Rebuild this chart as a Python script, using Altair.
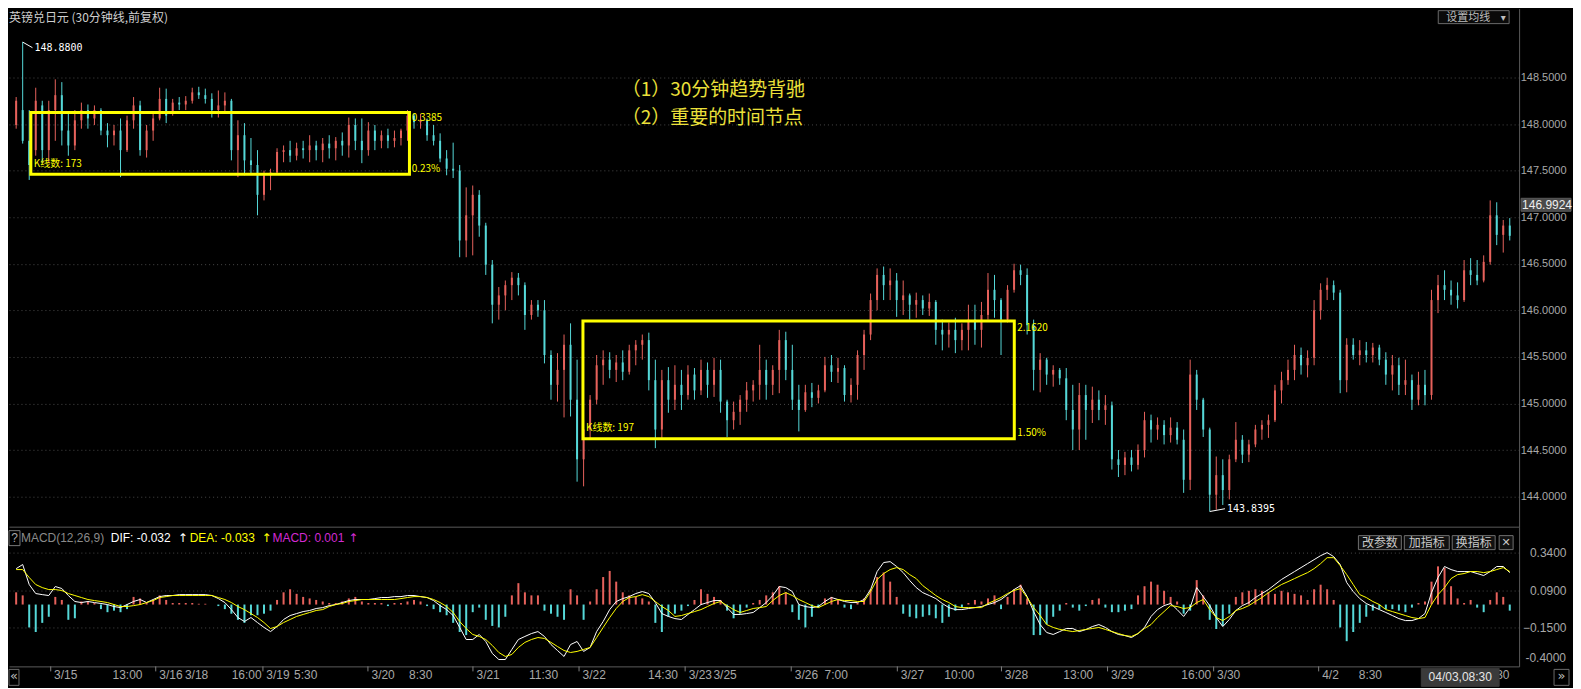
import altair as alt
import pandas as pd

# ---------------- data (GBP/JPY 30-min, each entry = 3 half-hour candles) ----------------
opens = [
147.99,148.15,147.82,147.72,148.20,147.72,148.15,148.31,147.93,147.77,
148.04,148.15,148.06,148.15,147.93,147.88,147.93,147.72,148.04,148.20,
147.72,147.93,148.06,148.27,148.12,148.23,148.21,148.25,148.34,148.31,
148.27,148.15,148.20,148.25,147.72,147.88,147.61,147.56,147.24,147.45,
147.48,147.70,147.72,147.66,147.74,147.72,147.77,147.72,147.79,147.74,
147.82,147.77,147.99,147.82,147.72,147.93,147.82,147.88,147.82,147.85,
147.93,148.09,148.02,148.04,147.88,147.82,147.63,147.52,147.50,146.75,
147.02,147.24,146.91,146.49,146.06,146.16,146.27,146.35,146.27,145.95,
146.06,146.00,145.52,145.20,145.36,145.63,145.04,144.40,144.72,145.04,
145.41,145.47,145.36,145.44,145.34,145.57,145.63,145.68,145.25,144.72,
145.25,145.04,145.20,145.09,145.31,145.14,145.36,145.20,145.36,145.02,
144.82,144.91,145.04,145.14,145.20,145.36,145.20,145.36,145.68,145.36,
145.04,144.93,145.12,145.06,145.14,145.41,145.34,145.38,145.09,145.20,
145.52,145.74,146.11,146.38,146.27,146.32,146.11,146.16,146.06,146.11,
146.02,146.09,145.79,145.74,145.79,145.68,145.79,145.90,145.79,145.95,
146.22,146.11,145.90,146.22,146.43,146.38,145.84,145.36,145.47,145.31,
145.36,145.27,144.93,144.72,145.09,144.93,145.04,144.93,144.98,144.40,
144.34,144.42,144.34,144.50,144.82,144.72,144.77,144.66,144.74,144.61,
144.18,145.31,145.04,144.72,144.02,144.23,144.07,144.40,144.61,144.45,
144.56,144.72,144.77,144.82,145.14,145.25,145.36,145.52,145.41,145.49,
146.00,146.22,146.27,146.19,145.25,145.63,145.52,145.57,145.52,145.60,
145.47,145.31,145.41,145.20,145.25,145.04,145.20,145.09,146.11,146.27,
146.22,146.16,146.11,146.43,146.38,146.32,146.52,147.02,146.81,146.91,
]
highs = [
148.29,148.88,148.15,148.39,148.25,148.25,148.48,148.45,148.11,148.15,
148.23,148.21,148.20,148.17,148.01,147.99,148.06,148.09,148.29,148.25,
147.99,148.11,148.39,148.38,148.27,148.29,148.30,148.39,148.40,148.38,
148.33,148.36,148.34,148.27,148.04,148.01,147.85,147.72,147.50,147.52,
147.74,147.77,147.82,147.80,147.82,147.88,147.82,147.85,147.88,147.86,
147.91,148.07,148.06,148.06,148.02,147.99,147.93,147.95,147.93,147.95,
148.15,148.11,148.11,148.06,147.99,147.90,147.72,147.80,147.56,147.32,
147.34,147.29,146.94,146.54,146.25,146.32,146.41,146.40,146.30,146.11,
146.11,146.11,145.57,145.54,145.74,145.86,145.47,144.82,145.09,145.52,
145.57,145.55,145.52,145.57,145.63,145.68,145.74,145.76,145.47,145.36,
145.39,145.41,145.36,145.41,145.38,145.47,145.44,145.49,145.47,145.04,
145.02,145.09,145.23,145.25,145.63,145.47,145.41,145.79,145.77,145.63,
145.20,145.20,145.22,145.20,145.50,145.52,145.49,145.41,145.27,145.57,
145.79,146.18,146.45,146.47,146.45,146.40,146.32,146.18,146.19,146.16,
146.18,146.11,145.90,145.87,145.92,145.86,146.06,146.06,146.09,146.40,
146.38,146.13,146.27,146.50,146.49,146.45,145.90,145.54,145.49,145.41,
145.38,145.38,145.20,145.22,145.20,145.18,145.14,145.09,145.02,144.50,
144.48,144.50,144.56,144.91,144.88,144.85,144.82,144.85,144.80,144.72,
145.47,145.36,145.06,144.74,144.43,144.40,144.45,144.80,144.66,144.61,
144.77,144.82,144.88,145.20,145.34,145.47,145.63,145.60,145.57,146.11,
146.29,146.35,146.32,146.22,145.70,145.70,145.68,145.66,145.65,145.63,
145.55,145.52,145.49,145.47,145.31,145.34,145.36,146.22,146.38,146.43,
146.32,146.30,146.54,146.56,146.54,146.59,147.18,147.16,146.97,146.99,
]
lows = [
147.95,147.79,147.40,147.66,147.58,147.58,147.82,147.77,147.66,147.72,
147.95,147.95,147.99,147.88,147.75,147.77,147.43,147.70,147.95,147.66,
147.64,147.82,148.04,148.01,148.09,148.15,148.15,148.22,148.27,148.22,
148.07,148.07,148.11,147.61,147.43,147.45,147.47,147.02,147.18,147.29,
147.46,147.59,147.59,147.61,147.63,147.59,147.61,147.59,147.63,147.61,
147.66,147.64,147.72,147.58,147.66,147.72,147.74,147.74,147.75,147.77,
147.82,147.95,147.95,147.82,147.77,147.59,147.45,147.42,146.57,146.57,
146.59,146.79,146.38,145.86,145.90,146.00,146.11,146.16,145.79,145.90,
145.93,145.43,145.04,145.02,144.85,144.86,144.16,144.11,144.61,144.99,
145.20,145.27,145.23,145.25,145.31,145.41,145.47,145.14,144.52,144.61,
144.90,144.93,144.93,145.04,145.04,145.09,145.06,145.07,144.90,144.64,
144.72,144.77,144.91,145.02,145.04,145.04,145.09,145.11,145.25,144.93,
144.70,144.91,144.96,145.00,145.12,145.23,145.22,145.02,145.01,145.04,
145.36,145.68,146.00,146.11,146.11,145.93,145.95,145.90,145.92,145.95,
145.94,145.63,145.57,145.60,145.54,145.57,145.57,145.63,145.60,145.90,
145.92,145.52,145.87,146.19,146.27,145.74,145.14,145.12,145.20,145.18,
145.20,144.82,144.50,144.50,144.61,144.79,144.82,144.77,144.29,144.21,
144.23,144.27,144.29,144.42,144.58,144.61,144.56,144.58,144.56,144.04,
144.07,144.93,144.64,143.84,143.86,143.91,143.97,144.37,144.36,144.37,
144.53,144.61,144.63,144.80,145.00,145.20,145.25,145.31,145.28,145.41,
145.90,146.11,146.11,145.11,145.12,145.47,145.41,145.44,145.44,145.41,
145.20,145.14,145.09,145.09,144.93,144.98,144.98,145.04,145.97,146.11,
146.06,146.02,146.09,146.27,146.27,146.30,146.49,146.70,146.62,146.75,
]
closes = [
148.25,147.82,147.56,148.25,147.72,148.15,148.31,147.93,147.77,148.04,
148.15,148.06,148.15,147.93,147.88,147.93,147.72,148.04,148.20,147.72,
147.93,148.06,148.27,148.09,148.23,148.21,148.25,148.34,148.31,148.27,
148.15,148.20,148.25,147.72,147.88,147.61,147.56,147.24,147.45,147.48,
147.70,147.72,147.66,147.74,147.72,147.77,147.72,147.79,147.74,147.82,
147.77,147.99,147.82,147.72,147.93,147.82,147.88,147.82,147.85,147.93,
148.09,148.02,148.04,147.88,147.82,147.63,147.52,147.50,146.75,147.02,
147.24,146.91,146.49,146.06,146.16,146.27,146.35,146.27,145.95,146.06,
146.00,145.52,145.20,145.36,145.63,145.04,144.40,144.72,145.04,145.41,
145.47,145.36,145.44,145.34,145.57,145.63,145.68,145.25,144.72,145.25,
145.04,145.20,145.09,145.31,145.14,145.36,145.20,145.36,145.02,144.82,
144.91,145.04,145.14,145.20,145.36,145.20,145.36,145.68,145.36,145.04,
144.93,145.12,145.06,145.14,145.41,145.34,145.38,145.09,145.20,145.52,
145.74,146.11,146.38,146.27,146.32,146.11,146.16,146.06,146.11,146.02,
146.09,145.79,145.74,145.79,145.68,145.79,145.90,145.79,145.95,146.22,
146.11,145.90,146.22,146.43,146.38,145.84,145.36,145.47,145.31,145.36,
145.27,144.93,144.72,145.09,144.93,145.04,144.93,144.98,144.40,144.34,
144.42,144.34,144.50,144.82,144.72,144.77,144.66,144.74,144.61,144.18,
145.31,145.04,144.72,144.02,144.23,144.07,144.40,144.61,144.45,144.56,
144.72,144.77,144.82,145.14,145.25,145.36,145.52,145.41,145.49,146.00,
146.22,146.27,146.19,145.25,145.63,145.52,145.57,145.52,145.60,145.47,
145.31,145.41,145.20,145.25,145.04,145.20,145.09,146.11,146.27,146.22,
146.16,146.11,146.43,146.38,146.32,146.52,147.02,146.81,146.91,146.80,
]
dif = [
0.235,0.262,0.131,0.072,0.065,0.059,0.118,0.105,0.059,0.020,
0.013,0.020,0.013,0.007,0.000,-0.013,-0.020,0.000,0.020,0.033,
0.013,0.033,0.052,0.059,0.059,0.065,0.065,0.065,0.065,0.065,
0.059,0.039,0.013,-0.033,-0.085,-0.111,-0.085,-0.118,-0.150,-0.177,
-0.144,-0.098,-0.072,-0.059,-0.046,-0.039,-0.026,-0.020,-0.007,0.000,
0.013,0.026,0.033,0.033,0.033,0.039,0.046,0.046,0.052,0.052,
0.059,0.059,0.052,0.046,0.026,-0.007,-0.033,-0.072,-0.150,-0.229,
-0.229,-0.196,-0.242,-0.320,-0.360,-0.360,-0.294,-0.229,-0.209,-0.190,
-0.177,-0.209,-0.262,-0.301,-0.340,-0.262,-0.242,-0.307,-0.281,-0.177,
-0.111,-0.033,0.020,0.039,0.052,0.072,0.085,0.072,0.013,-0.059,
-0.078,-0.092,-0.098,-0.065,-0.033,0.000,0.013,0.026,0.026,-0.020,
-0.065,-0.065,-0.059,-0.052,-0.020,0.013,0.059,0.118,0.111,0.085,
0.000,-0.013,-0.020,-0.013,0.020,0.046,0.033,0.020,0.013,0.013,
0.033,0.098,0.216,0.275,0.281,0.249,0.209,0.157,0.111,0.078,
0.059,0.039,0.007,-0.020,-0.033,-0.033,-0.026,-0.020,-0.013,0.000,
0.013,0.033,0.065,0.098,0.124,0.052,-0.046,-0.131,-0.183,-0.196,
-0.177,-0.157,-0.157,-0.177,-0.164,-0.144,-0.131,-0.150,-0.177,-0.196,
-0.203,-0.216,-0.190,-0.150,-0.078,-0.033,-0.007,0.007,-0.033,-0.078,
-0.020,0.111,0.052,-0.007,-0.085,-0.144,-0.098,-0.039,-0.007,0.013,
0.046,0.072,0.098,0.131,0.164,0.190,0.216,0.242,0.268,0.294,
0.320,0.340,0.314,0.262,0.144,0.085,0.039,0.007,-0.013,-0.033,
-0.052,-0.072,-0.092,-0.105,-0.105,-0.092,-0.059,0.078,0.177,0.249,
0.229,0.216,0.216,0.216,0.203,0.190,0.216,0.249,0.249,0.209,
]
dea = [
0.229,0.229,0.177,0.131,0.111,0.098,0.098,0.092,0.072,0.059,
0.046,0.033,0.026,0.020,0.013,0.000,-0.013,-0.013,-0.007,0.000,
0.013,0.026,0.046,0.052,0.059,0.059,0.059,0.059,0.059,0.059,
0.059,0.046,0.033,0.013,-0.013,-0.033,-0.059,-0.085,-0.118,-0.157,
-0.144,-0.118,-0.098,-0.078,-0.065,-0.052,-0.039,-0.033,-0.013,0.000,
0.007,0.020,0.026,0.033,0.033,0.033,0.033,0.033,0.033,0.039,
0.046,0.052,0.052,0.046,0.033,0.013,-0.013,-0.052,-0.111,-0.157,
-0.196,-0.209,-0.229,-0.268,-0.314,-0.340,-0.327,-0.281,-0.248,-0.229,
-0.216,-0.222,-0.248,-0.275,-0.301,-0.314,-0.307,-0.294,-0.281,-0.216,
-0.150,-0.085,-0.026,0.020,0.046,0.052,0.065,0.052,0.020,-0.013,
-0.039,-0.078,-0.072,-0.059,-0.046,-0.033,-0.013,0.007,0.020,-0.007,
-0.033,-0.052,-0.039,-0.026,-0.020,-0.013,0.026,0.059,0.078,0.059,
0.033,0.013,-0.007,-0.020,0.000,0.020,0.033,0.026,0.026,0.020,
0.020,0.085,0.164,0.203,0.229,0.242,0.229,0.196,0.170,0.124,
0.092,0.059,0.033,0.013,-0.013,-0.020,-0.020,-0.020,-0.020,0.007,
0.026,0.046,0.072,0.092,0.105,0.046,-0.020,-0.072,-0.131,-0.150,
-0.163,-0.170,-0.177,-0.170,-0.163,-0.157,-0.150,-0.163,-0.177,-0.190,
-0.203,-0.209,-0.190,-0.157,-0.131,-0.085,-0.046,-0.007,-0.013,-0.026,
-0.020,0.013,0.033,-0.033,-0.085,-0.105,-0.078,-0.039,-0.026,-0.007,
0.020,0.046,0.078,0.105,0.131,0.150,0.170,0.190,0.209,0.235,
0.268,0.307,0.307,0.255,0.196,0.131,0.065,0.046,0.020,0.000,
-0.033,-0.046,-0.059,-0.072,-0.085,-0.092,-0.085,0.000,0.065,0.111,
0.170,0.196,0.203,0.216,0.216,0.209,0.216,0.229,0.242,0.216,
]
macd_hist = [
0.08,0.06,-0.15,-0.18,-0.12,-0.08,0.05,0.03,-0.10,-0.09,
0.02,0.02,0.01,-0.03,-0.05,-0.04,-0.05,-0.03,0.05,0.04,
0.01,0.03,0.06,0.03,0.01,0.01,0.01,0.01,0.005,0.005,
0.0,-0.01,-0.03,-0.06,-0.10,-0.12,-0.07,-0.07,-0.06,-0.04,
0.03,0.08,0.10,0.07,0.05,0.04,0.03,0.02,0.01,0.01,
0.02,0.04,0.05,0.02,0.01,0.01,0.01,-0.01,0.01,0.01,
0.02,0.03,0.02,-0.01,-0.03,-0.05,-0.07,-0.12,-0.18,-0.20,
-0.05,-0.02,-0.10,-0.14,-0.15,-0.08,0.06,0.14,0.08,0.06,
0.06,-0.04,-0.06,-0.08,-0.10,0.10,0.06,-0.10,0.02,0.10,
0.18,0.22,0.15,0.08,0.06,0.05,0.04,0.02,-0.12,-0.18,
-0.08,-0.06,-0.04,-0.01,0.03,0.10,0.07,0.05,0.03,-0.04,
-0.09,-0.06,-0.02,0.01,0.03,0.06,0.08,0.12,0.08,-0.05,
-0.10,-0.15,-0.08,-0.02,0.04,0.05,0.03,-0.02,-0.03,0.01,
0.04,0.10,0.18,0.21,0.15,0.05,-0.06,-0.08,-0.09,-0.08,
-0.07,-0.09,-0.12,-0.08,-0.04,-0.02,0.01,0.03,0.02,0.04,
0.06,-0.03,0.05,0.10,0.13,0.04,-0.20,-0.20,-0.13,-0.08,
-0.04,0.01,-0.02,-0.04,-0.01,0.03,0.04,-0.02,-0.05,-0.05,
-0.04,-0.03,0.06,0.12,0.15,0.13,0.09,0.05,0.02,-0.06,
-0.04,0.16,0.06,-0.10,-0.16,-0.14,-0.06,0.05,0.08,0.09,
0.10,0.09,0.08,0.07,0.09,0.08,0.07,0.06,0.03,0.10,
0.13,0.10,0.03,-0.15,-0.24,-0.18,-0.12,-0.08,-0.04,-0.03,
-0.03,-0.03,-0.04,-0.05,-0.02,0.01,0.02,0.15,0.25,0.24,
0.12,0.04,0.01,0.03,-0.02,-0.05,0.03,0.08,0.05,-0.04,
]

price_ticks = [144.0, 144.5, 145.0, 145.5, 146.0, 146.5, 147.0, 147.5, 148.0, 148.5]
macd_ticks = [0.34, 0.09, -0.15]

# x-axis time labels (slot = half-hour candle index) and day-boundary ticks
xlab_text = ["3/15", "13:00", "3/16", "3/18", "16:00", "3/19", "5:30", "3/20", "8:30", "3/21",
             "11:30", "3/22", "14:30", "3/23", "3/25", "3/26", "7:00", "3/27", "10:00", "3/28",
             "13:00", "3/29", "16:00", "3/30", "4/2", "8:30", "30"]
xlab_slot = [18.2, 45.1, 66.6, 78.4, 99.9, 115.8, 128.6, 164.2, 181.5, 212.5,
             236.7, 261.3, 291.4, 310.1, 321.5, 358.9, 372.6, 407.7, 427.7, 455.5,
             482.4, 504.3, 536.7, 553.1, 601.5, 618.3, 681.5]
day_tick_slot = [16.9, 65.2, 114.5, 162.8, 211.1, 259.9, 308.7, 357.5, 406.3, 454.2, 503.0, 551.8, 600.1]

# annotation boxes (consolidation zones)
box_s0 = [7.75, 261.7]
box_s1 = [181.9, 460.1]
box_top = [148.125, 145.884]
box_bot = [147.46, 144.62]
box_lab_text = ["K线数: 173", "0.3385", "0.23%", "K线数: 197", "2.1620", "1.50%"]
box_lab_slot = [9.1, 182.9, 182.9, 263.1, 461.5, 461.5]
box_lab_price = [147.567, 148.066, 147.514, 144.74, 145.815, 144.684]

HIGH_PRICE = 148.88
HIGH_SLOT = 4
LOW_PRICE = 143.8395
LOW_SLOT = 550
LAST_PRICE = 146.9924

# ---------------- styling ----------------
RED = "#e6615b"
CYAN = "#55d8d8"
YEL = "#ffff00"
GRID = "#484848"
DOMAIN = "#5a5a5a"
LAB = "#a8a8a8"
CJK = "Noto Sans CJK SC"
SANS = "Liberation Sans"
MONO = "DejaVu Sans Mono"

W = 1513
H1 = 519
H2 = 140

N = len(opens)
slots = [1 + 3 * i for i in range(N)]
df = pd.DataFrame({"slot": slots, "open": opens, "high": highs, "low": lows, "close": closes,
                   "dif": dif, "dea": dea, "hist": macd_hist})
df["dir"] = ["up" if c >= o else "down" for o, c in zip(opens, closes)]
df["hdir"] = ["up" if h >= 0 else "down" for h in macd_hist]

xs = alt.Scale(domain=[0, 690], nice=False, zero=False)
ys = alt.Scale(domain=[143.677, 149.239], nice=False, zero=False)
ms = alt.Scale(domain=[-0.405, 0.510], nice=False, zero=False)
cs = alt.Scale(domain=["up", "down"], range=[RED, CYAN])

x_axis_main = alt.Axis(labels=False, ticks=False, grid=False, domain=True, domainColor=DOMAIN, title=None)
y_axis_main = alt.Axis(orient="right", values=price_ticks, format=".4f", labelAlign="right", labelPadding=47,
                       ticks=False, grid=True, gridColor=GRID, gridDash=[1, 3], domainColor=DOMAIN,
                       labelColor=LAB, labelFont=SANS, labelFontSize=11, title=None)

names_js = "[" + ",".join("'" + t + "'" for t in xlab_text) + "]"
vals_js = "[" + ",".join(str(v) for v in xlab_slot) + "]"
x_axis_macd = alt.Axis(values=xlab_slot, labelExpr=names_js + "[indexof(" + vals_js + ", datum.value)]",
                       labelAlign="left", labelBaseline="top", labelPadding=3, ticks=False, grid=False,
                       domainColor=DOMAIN, labelColor=LAB, labelFont=SANS, labelFontSize=12,
                       labelOverlap=False, labelFlush=False, title=None)
y_axis_macd = alt.Axis(orient="right", values=macd_ticks, format=".4f", labelAlign="right", labelPadding=47,
                       ticks=False, grid=True, gridColor=GRID, gridDash=[1, 3], domainColor=DOMAIN,
                       labelColor=LAB, labelFont=SANS, labelFontSize=12, title=None)


def XM(field="slot"):
    return alt.X(field, type="quantitative", scale=xs, axis=x_axis_main)


def YM(field):
    return alt.Y(field, type="quantitative", scale=ys, axis=y_axis_main)


def XB(field="slot"):
    return alt.X(field, type="quantitative", scale=xs, axis=x_axis_macd)


def YB(field):
    return alt.Y(field, type="quantitative", scale=ms, axis=y_axis_macd)


def label(text, x, y, color, size, font=CJK, align="left", baseline="middle", **kw):
    return alt.Chart(pd.DataFrame({"t": [text]})).mark_text(
        align=align, baseline=baseline, color=color, fontSize=size, font=font, **kw
    ).encode(x=alt.value(x), y=alt.value(y), text="t:N")


def rect(x0, x1, y0, y1, stroke, fill, sw=1):
    return alt.Chart(pd.DataFrame({"a": [0]})).mark_rect(stroke=stroke, fill=fill, strokeWidth=sw).encode(
        x=alt.value(x0), x2=alt.value(x1), y=alt.value(y0), y2=alt.value(y1))


# ---------------- main price panel ----------------
wick = alt.Chart(df).mark_rule(strokeWidth=1).encode(
    x=XM(), y=YM("low"), y2="high:Q", color=alt.Color("dir:N", scale=cs, legend=None))
body = alt.Chart(df).mark_bar(size=2).encode(
    x=XM(), y=YM("open"), y2="close:Q", color=alt.Color("dir:N", scale=cs, legend=None))

boxes = alt.Chart(pd.DataFrame({"s0": box_s0, "s1": box_s1, "top": box_top, "bot": box_bot})).mark_rect(
    filled=False, stroke=YEL, strokeWidth=3).encode(x=XM("s0"), x2="s1:Q", y=YM("top"), y2="bot:Q")
box_labels = alt.Chart(pd.DataFrame({"t": box_lab_text, "s": box_lab_slot, "p": box_lab_price})).mark_text(
    align="left", baseline="middle", color=YEL, fontSize=10, font=CJK).encode(x=XM("s"), y=YM("p"), text="t:N")

hl = pd.DataFrame({"s": [HIGH_SLOT, LOW_SLOT], "p": [HIGH_PRICE, LOW_PRICE],
                   "s2": [HIGH_SLOT + 4.5, LOW_SLOT + 7], "p2": [HIGH_PRICE - 0.06, LOW_PRICE + 0.03],
                   "t": ["148.8800", "143.8395"]})
hl_rule = alt.Chart(hl).mark_rule(color="#ffffff", strokeWidth=1).encode(x=XM("s"), x2="s2:Q", y=YM("p"), y2="p2:Q")
hl_text = alt.Chart(hl).mark_text(align="left", baseline="middle", color="#ffffff", fontSize=10, font=MONO, dx=2).encode(
    x=XM("s2"), y=YM("p2"), text="t:N")

title = label("英镑兑日元 (30分钟线,前复权)", 0, 9, "#cfcfcf", 12)
note1 = label("（1）30分钟趋势背驰", 614, 82, "#ece13a", 19)
note2 = label("（2）重要的时间节点", 614, 110, "#ece13a", 19)
btn = rect(1432, 1503, 2, 15, "#6a6a6a", "#0a0a0a")
btn_t = label("设置均线", 1440, 9, "#bdbdbd", 11)
btn_a = label("▾", 1497, 9, "#bdbdbd", 10, font="DejaVu Sans", align="center")
last_box = rect(1515, 1565, 190, 203, "#5a5a5a", "#4a4a4a")
last_t = label(f"{LAST_PRICE:.4f}", 1516, 197, "#eeeeee", 12, font=SANS)

main = alt.layer(wick, body, boxes, box_labels, hl_rule, hl_text, title, note1, note2,
                 btn, btn_t, btn_a, last_box, last_t).properties(width=W, height=H1)

# ---------------- MACD panel ----------------
hist_bars = alt.Chart(df).mark_bar(size=2).encode(
    x=XB(), y=YB("hist"), y2=alt.datum(0), color=alt.Color("hdir:N", scale=cs, legend=None))
dif_line = alt.Chart(df).mark_line(color="#ffffff", strokeWidth=1).encode(x=XB(), y=YB("dif"))
dea_line = alt.Chart(df).mark_line(color=YEL, strokeWidth=1).encode(x=XB(), y=YB("dea"))

day_ticks = alt.Chart(pd.DataFrame({"s": day_tick_slot})).mark_rule(color="#808080").encode(
    x=XB("s"), y=alt.value(H2), y2=alt.value(H2 + 5))

q_box = rect(0, 11, 4, 19, "#777777", "#000000")
q_t = label("?", 5.5, 11.5, "#aaaaaa", 12, font=SANS, align="center")
h1 = label("MACD(12,26,9)", 12, 11, "#8a8a8a", 12, font=SANS)
h2 = label("DIF: -0.032", 102, 11, "#ffffff", 12, font=SANS)
h2a = label("↑", 169, 11, "#ffffff", 12, font="DejaVu Sans")
h3 = label("DEA: -0.033", 181, 11, YEL, 12, font=SANS)
h3a = label("↑", 253, 11, YEL, 12, font="DejaVu Sans")
h4 = label("MACD: 0.001", 264, 11, "#d22ad2", 12, font=SANS)
h4a = label("↑", 340, 11, "#d22ad2", 12, font="DejaVu Sans")

b1 = rect(1352, 1395, 9, 23, "#707070", "#111111")
b1t = label("改参数", 1373.5, 16, "#c8c8c8", 12, align="center")
b2 = rect(1398, 1443, 9, 23, "#707070", "#111111")
b2t = label("加指标", 1420.5, 16, "#c8c8c8", 12, align="center")
b3 = rect(1446, 1489, 9, 23, "#707070", "#111111")
b3t = label("换指标", 1467.5, 16, "#c8c8c8", 12, align="center")
b4 = rect(1493, 1507, 9, 23, "#707070", "#111111")
b4t = label("✕", 1500, 16, "#c8c8c8", 11, font="DejaVu Sans", align="center")

m40 = label("-0.4000", 1560, 132, LAB, 12, font=SANS, align="right")

ll = rect(0, 10, 143, 159, "#6a6a6a", "#000000")
ll_t = label("«", 5, 150, "#bbbbbb", 13, font="DejaVu Sans", align="center")
rr = rect(1548, 1563, 143, 159, "#6a6a6a", "#000000")
rr_t = label("»", 1555.5, 150, "#bbbbbb", 13, font="DejaVu Sans", align="center")
cur = rect(1415, 1493, 142, 160, "#3a3a3a", "#3a3a3a")
cur_t = label("04/03,08:30", 1454, 151, "#e6e6e6", 12, font=SANS, align="center")

macd = alt.layer(hist_bars, dif_line, dea_line, day_ticks, q_box, q_t, h1, h2, h2a, h3, h3a, h4, h4a,
                 b1, b1t, b2, b2t, b3, b3t, b4, b4t, m40, ll, ll_t, rr, rr_t, cur, cur_t).properties(width=W, height=H2)

chart = alt.vconcat(main, macd, spacing=0).properties(
    padding=0, background="#000000"
).configure_view(stroke=None).configure_concat(spacing=0)

chart.save("out.html", embed_options={"renderer": "svg", "actions": False})
